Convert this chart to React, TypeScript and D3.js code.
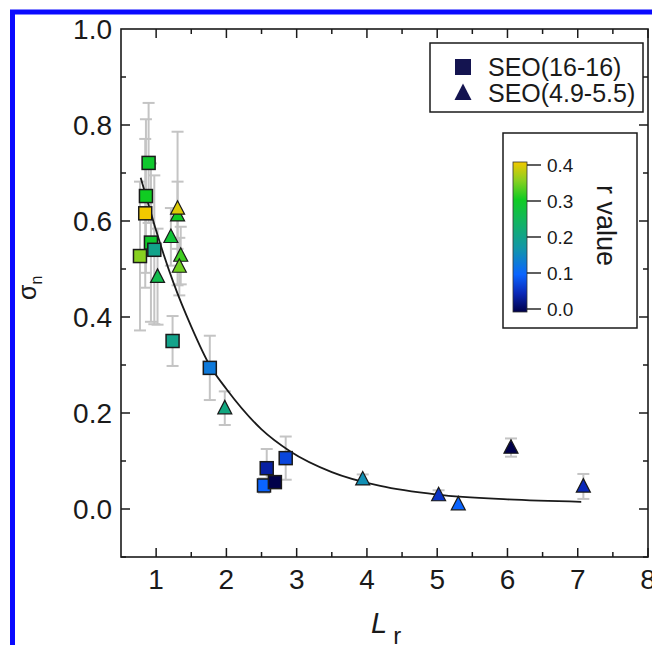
import React from "react";
import * as d3 from "d3";

// ---- data ----
// SEO(16-16) squares
const sqX = [0.77, 0.845, 0.855, 0.893, 0.926, 0.974, 1.234, 1.764, 2.535, 2.574, 2.69, 2.844];
const sqY = [0.527, 0.616, 0.652, 0.721, 0.555, 0.54, 0.35, 0.294, 0.049, 0.085, 0.056, 0.106];
const sqErr = [0.155, 0.155, 0.16, 0.125, 0.165, 0.155, 0.052, 0.067, 0.015, 0.04, 0.01, 0.045];
const sqR = [0.35, 0.4, 0.3, 0.29, 0.29, 0.2, 0.2, 0.13, 0.1, 0.04, 0.0, 0.075];

// SEO(4.9-5.5) triangles
const trX = [1.02, 1.21, 1.305, 1.305, 1.35, 1.33, 1.977, 3.94, 5.02, 5.30, 6.05, 7.08];
const trY = [0.484, 0.567, 0.612, 0.626, 0.528, 0.505, 0.21, 0.062, 0.029, 0.01, 0.128, 0.047];
const trErr = [0.1, 0.06, 0.07, 0.16, 0.06, 0.06, 0.035, 0.01, 0.01, 0.0, 0.019, 0.026];
const trR = [0.26, 0.28, 0.3, 0.39, 0.32, 0.34, 0.21, 0.16, 0.06, 0.1, 0.0, 0.05];

// fitted decay curve
const fitX = [0.78, 0.9, 1.0, 1.25, 1.5, 1.76, 2.0, 2.5, 2.91, 3.5, 4.19, 5.0, 6.0, 7.05];
const fitY = [0.69, 0.63, 0.58, 0.47, 0.38, 0.3, 0.25, 0.166, 0.12, 0.077, 0.048, 0.03, 0.02, 0.015];

const xTicks = [1, 2, 3, 4, 5, 6, 7, 8];
const yTicks = [0.0, 0.2, 0.4, 0.6, 0.8, 1.0];
const cbTicks = [0.0, 0.1, 0.2, 0.3, 0.4];
const legendLabels = ["SEO(16-16)", "SEO(4.9-5.5)"];

const cmapStops = [0, 0.05, 0.1, 0.17, 0.25, 0.3, 0.35, 0.4];
const cmapColors = ["#00004a", "#0a28b8", "#0a64ff", "#1296a8", "#12b858", "#10cc22", "#88d020", "#f2c800"];

const FONT = "'Liberation Sans', Arial, Helvetica, sans-serif";

export default function App() {
  const left = 121, right = 648, top = 29, bottom = 557;
  const x = d3.scaleLinear().domain([0.5, 8]).range([left, right]);
  const y = d3.scaleLinear().domain([-0.1, 1.0]).range([bottom, top]);
  const cmap = d3.scaleLinear<string>().domain(cmapStops).range(cmapColors).interpolate(d3.interpolateRgb);
  const cb = d3.scaleLinear().domain([0, 0.4]).range([309, 165]);

  const xMinor = d3.range(1, 16).map((i) => 0.5 + i * 0.5);
  const yMinor = d3.range(0, 11).map((i) => -0.1 + i * 0.1).map((v) => Math.round(v * 100) / 100);

  const line = d3
    .line<number>()
    .x((_, i) => x(fitX[i]))
    .y((d) => y(d))
    .curve(d3.curveMonotoneX);

  const sqSize = 13;
  const triPath = (cx: number, cy: number, s: number) => {
    const h = s * 0.9;
    return `M${cx},${cy - h * 0.62}L${cx + s / 2},${cy + h * 0.45}L${cx - s / 2},${cy + h * 0.45}Z`;
  };

  const errBar = (px: number, py: number, e: number, key: string) => {
    if (e <= 0) return null;
    const y1 = y(py + e), y2 = y(py - e), cx = x(px);
    return (
      <g key={key} stroke="#c4c4c4" strokeWidth={2}>
        <line x1={cx} x2={cx} y1={y1} y2={y2} />
        <line x1={cx - 6} x2={cx + 6} y1={y1} y2={y1} />
        <line x1={cx - 6} x2={cx + 6} y1={y2} y2={y2} />
      </g>
    );
  };

  const majTick = 9, minTick = 5;

  return (
    <svg width={652} height={645} style={{ position: "absolute", left: 0, top: 0, background: "#fff" }} fontFamily={FONT}>
      <defs>
        <linearGradient id="cbgrad" x1="0" y1="1" x2="0" y2="0">
          {cmapStops.map((s, i) => (
            <stop key={i} offset={s / 0.4} stopColor={cmapColors[i]} />
          ))}
        </linearGradient>
        <clipPath id="plotclip">
          <rect x={left} y={top} width={right - left} height={bottom - top} />
        </clipPath>
      </defs>
      <rect x={0} y={0} width={652} height={645} fill="#fff" />
      {/* blue frame */}
      <rect x={12.5} y={12} width={700} height={700} fill="none" stroke="#0a0aff" strokeWidth={5} />

      {/* error bars */}
      {sqX.map((v, i) => errBar(v, sqY[i], sqErr[i], "se" + i))}
      {trX.map((v, i) => errBar(v, trY[i], trErr[i], "te" + i))}

      {/* fit curve */}
      <path d={line(fitY) || ""} fill="none" stroke="#1a1a1a" strokeWidth={1.8} clipPath="url(#plotclip)" />

      {/* markers */}
      {trX.map((v, i) => (
        <path key={"t" + i} d={triPath(x(v), y(trY[i]), 14)} fill={cmap(trR[i])} stroke="#1a1a1a" strokeWidth={1.2} />
      ))}
      {sqX.map((v, i) => (
        <rect
          key={"s" + i}
          x={x(v) - sqSize / 2}
          y={y(sqY[i]) - sqSize / 2}
          width={sqSize}
          height={sqSize}
          fill={cmap(sqR[i])}
          stroke="#1a1a1a"
          strokeWidth={1.5}
        />
      ))}

      {/* axes frame */}
      <rect x={left} y={top} width={right - left} height={bottom - top} fill="none" stroke="#1a1a1a" strokeWidth={1.6} />
      {/* x ticks */}
      {xMinor.map((v, i) => {
        const major = Number.isInteger(v);
        const L = major ? majTick : minTick;
        return (
          <g key={"xt" + i} stroke="#1a1a1a" strokeWidth={1.5}>
            <line x1={x(v)} x2={x(v)} y1={bottom} y2={bottom - L} />
            <line x1={x(v)} x2={x(v)} y1={top} y2={top + L} />
          </g>
        );
      })}
      {yMinor.map((v, i) => {
        const major = Math.abs(Math.round(v * 5) - v * 5) < 1e-6;
        const L = major ? majTick : minTick;
        return (
          <g key={"yt" + i} stroke="#1a1a1a" strokeWidth={1.5}>
            <line x1={left} x2={left + L} y1={y(v)} y2={y(v)} />
            <line x1={right} x2={right - L} y1={y(v)} y2={y(v)} />
          </g>
        );
      })}
      {xTicks.map((v) => (
        <text key={"xl" + v} x={x(v)} y={589} fontSize={28} textAnchor="middle" fill="#1a1a1a">
          {v}
        </text>
      ))}
      {yTicks.map((v) => (
        <text key={"yl" + v} x={112} y={y(v) + 10} fontSize={28} textAnchor="end" fill="#1a1a1a">
          {v.toFixed(1)}
        </text>
      ))}

      {/* axis titles */}
      <text transform="translate(36,300) rotate(-90)" fontSize={25} fill="#1a1a1a">
        σ<tspan fontSize={16} dy={6}>n</tspan>
      </text>
      <text x={371} y={633} fontSize={29} fill="#1a1a1a">
        <tspan fontStyle="italic">L</tspan>
        <tspan fontSize={24} dx={6} dy={11}>r</tspan>
      </text>

      {/* legend */}
      <rect x={430} y={43} width={213} height={69} fill="#fff" stroke="#1a1a1a" strokeWidth={1.5} />
      <rect x={455} y={59} width={16} height={16} fill="#141450" />
      <text x={488} y={76} fontSize={25} fill="#1a1a1a">{legendLabels[0]}</text>
      <path d={triPath(463, 93, 17)} fill="#141450" />
      <text x={488} y={102} fontSize={25} fill="#1a1a1a">{legendLabels[1]}</text>

      {/* colorbar */}
      <rect x={503} y={133} width={134} height={195} fill="#fff" stroke="#1a1a1a" strokeWidth={1.5} />
      <rect x={513} y={cb(0.4) - 3} width={14} height={cb(0) - cb(0.4) + 6} fill="url(#cbgrad)" stroke="#333" strokeWidth={0.8} />
      {cbTicks.map((v) => (
        <g key={"cb" + v}>
          <line x1={527} x2={541} y1={cb(v)} y2={cb(v)} stroke="#1a1a1a" strokeWidth={1.4} />
          <text x={547} y={cb(v) + 7} fontSize={19} fill="#1a1a1a">{v.toFixed(1)}</text>
        </g>
      ))}
      <text transform="translate(597,185) rotate(90)" fontSize={27} fill="#1a1a1a">r value</text>
    </svg>
  );
}
